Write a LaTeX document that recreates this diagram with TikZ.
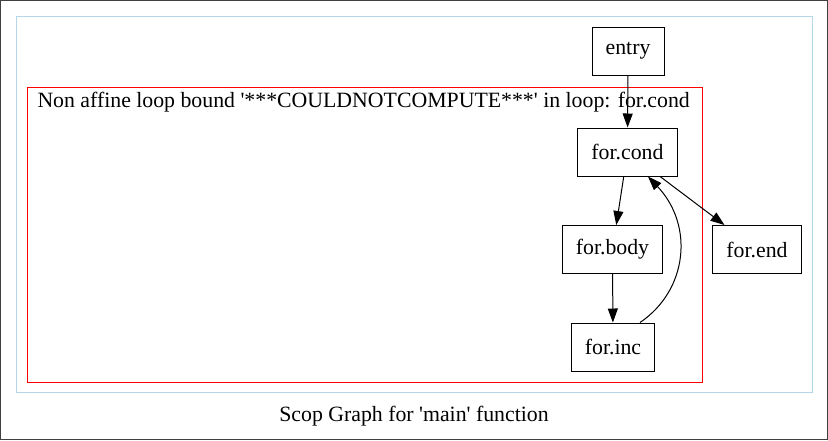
\documentclass[tikz,border=0pt]{standalone}
\usepackage{fontspec}
\setmainfont{Liberation Serif}
\usetikzlibrary{arrows.meta}
\definecolor{clusterblue}{RGB}{180, 214, 232}
\definecolor{framegray}{RGB}{64, 64, 64}

\begin{document}
\begin{tikzpicture}[x=0.5pt, y=-0.5pt, font=\fontsize{10.9}{13}\selectfont, line width=0.5pt,
		block/.style={draw=black, rectangle, minimum height=24pt, inner xsep=6.8pt},
		edge/.style={-{Triangle[length=7pt, width=5pt]}}]
			\useasboundingbox (0, 0) rectangle (828, 440);
			\draw [framegray] (0.5, 0.5) rectangle (827.5, 439.5);
			\draw [clusterblue] (16, 16) rectangle (812, 392);
			\draw [red] (27, 87) rectangle (702, 382);
			\node [anchor=base west, inner sep=0pt] (bound) at (37, 107) {Non affine loop bound \textquotesingle***COULDNOTCOMPUTE***\textquotesingle{} in loop: for.cond};
			\node [block] (entry) at (628, 51) {entry};
			\node [block] (cond) at (627.5, 152) {for.cond};
			\node [block] (body) at (612.5, 249.5) {for.body};
			\node [block] (end) at (757, 249.5) {for.end};
			\node [block] (inc) at (613, 347) {for.inc};
			\node (title) at (414, 416) {Scop Graph for \textquotesingle main\textquotesingle{} function};
			\draw [edge] (entry) -- (cond);
			\draw [edge] (cond) -- (body);
			\draw [edge] (cond) -- (end);
			\draw [edge] (body) -- (inc);
			\draw [edge] ([xshift=13.5pt]inc.north) .. controls (688, 290) and (694, 225) .. ([xshift=10.25pt]cond.south);
		\end{tikzpicture}
\end{document}
